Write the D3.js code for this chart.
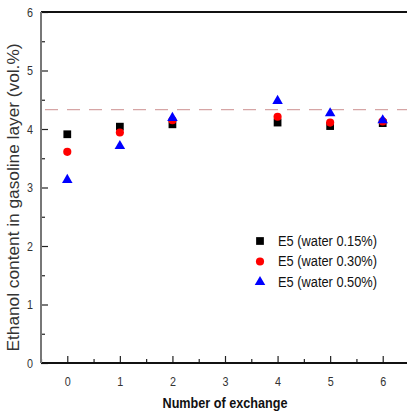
<!DOCTYPE html>
<html>
<head>
<meta charset="utf-8">
<script src="https://cdn.jsdelivr.net/npm/d3@7"></script>
<style>
  body { margin: 0; background: #fff; }
  text { font-family: "Liberation Sans Narrow", "Liberation Sans", Arial, sans-serif; }
</style>
</head>
<body>
<div id="chart"></div>
<script>
var svgWidth = 407;
var svgHeight = 414;

var margin = { top: 12, right: -2, bottom: 51, left: 41 };
var width = svgWidth - margin.left - margin.right;
var height = svgHeight - margin.top - margin.bottom;

// data
var exchanges = [0, 1, 2, 4, 5, 6];
var water015 = [3.91, 4.04, 4.08, 4.11, 4.05, 4.10];
var water030 = [3.61, 3.94, 4.15, 4.21, 4.11, 4.13];
var water050 = [3.13, 3.71, 4.19, 4.48, 4.27, 4.15];
var seriesNames = ["E5 (water 0.15%)", "E5 (water 0.30%)", "E5 (water 0.50%)"];
var refLevel = 4.33;
var xTicks = [0, 1, 2, 3, 4, 5, 6];
var yTicks = [0, 1, 2, 3, 4, 5, 6];

var svg = d3.select("#chart")
  .append("svg")
  .attr("width", svgWidth)
  .attr("height", svgHeight);

var chartGroup = svg.append("g")
  .attr("transform", `translate(${margin.left}, ${margin.top})`);

var x = d3.scaleLinear().domain([-0.5, 6.5]).range([0, width]);
var y = d3.scaleLinear().domain([0, 6]).range([height, 0]);

// minor ticks
var xMinor = d3.range(-0.5, 6.6, 0.5).filter(d => d % 1 !== 0);
var yMinor = d3.range(0.5, 6, 1);

var bottomAxis = d3.axisBottom(x).tickValues(xTicks).tickSize(-7).tickPadding(14)
  .tickFormat(d3.format("d"));
var leftAxis = d3.axisLeft(y).tickValues(yTicks).tickSize(-7).tickPadding(14)
  .tickFormat(d3.format("d"));

var xg = chartGroup.append("g")
  .attr("transform", `translate(0, ${height})`)
  .call(bottomAxis);
xg.select(".domain").remove();
xg.selectAll("text").attr("font-size", 13).attr("fill", "#333")
  .attr("textLength", 6).attr("lengthAdjust", "spacingAndGlyphs");

chartGroup.append("g")
  .attr("transform", `translate(0, ${height})`)
  .call(d3.axisBottom(x).tickValues(xMinor).tickSize(-4).tickFormat(""))
  .select(".domain").remove();

var yg = chartGroup.append("g").call(leftAxis);
yg.select(".domain").remove();
yg.selectAll("text").attr("font-size", 13).attr("fill", "#333").attr("dx", 6)
  .attr("textLength", 6).attr("lengthAdjust", "spacingAndGlyphs");

chartGroup.append("g")
  .call(d3.axisLeft(y).tickValues(yMinor).tickSize(-4).tickFormat(""))
  .select(".domain").remove();

chartGroup.selectAll(".tick line").attr("stroke", "#222").attr("stroke-width", 1.2);

// frame lines
chartGroup.append("line")
  .attr("x1", 0).attr("x2", width).attr("y1", height).attr("y2", height)
  .attr("stroke", "#111").attr("stroke-width", 2);
chartGroup.append("line")
  .attr("x1", 0).attr("x2", width).attr("y1", 0).attr("y2", 0)
  .attr("stroke", "#111").attr("stroke-width", 2);
chartGroup.append("line")
  .attr("x1", 0).attr("x2", 0).attr("y1", 0).attr("y2", height)
  .attr("stroke", "#777").attr("stroke-width", 2);

// dashed reference line
chartGroup.append("line")
  .attr("x1", 4).attr("x2", width).attr("y1", y(refLevel)).attr("y2", y(refLevel))
  .attr("stroke", "#a44").attr("stroke-width", 0.6)
  .attr("stroke-dasharray", "13,9");

var series = [
  { name: seriesNames[0], values: water015, color: "#000", shape: d3.symbolSquare, size: 60 },
  { name: seriesNames[1], values: water030, color: "#f00", shape: d3.symbolCircle, size: 52 },
  { name: seriesNames[2], values: water050, color: "#00f", shape: d3.symbolTriangle, size: 48 }
];

series.forEach(function(s) {
  chartGroup.selectAll(null)
    .data(exchanges)
    .enter()
    .append("path")
    .attr("d", d3.symbol().type(s.shape).size(s.size))
    .attr("transform", (d, i) => `translate(${x(d)}, ${y(s.values[i])})`)
    .attr("fill", s.color);
});

// legend
var legend = chartGroup.append("g")
  .attr("transform", `translate(${260 - margin.left}, ${241 - margin.top})`);
series.forEach(function(s, i) {
  legend.append("path")
    .attr("d", d3.symbol().type(s.shape).size(s.size))
    .attr("transform", `translate(0, ${i * 20.5})`)
    .attr("fill", s.color);
  legend.append("text")
    .attr("x", 18)
    .attr("y", i * 20.5)
    .attr("dy", "0.35em")
    .attr("font-size", 14)
    .attr("fill", "#111")
    .attr("textLength", 99)
    .attr("lengthAdjust", "spacingAndGlyphs")
    .text(s.name);
});

// axis titles
svg.append("text")
  .attr("transform", `translate(13, ${margin.top + height / 2 + 10}) rotate(-90)`)
  .attr("text-anchor", "middle")
  .attr("dy", "0.35em")
  .attr("font-size", 16)
  .attr("fill", "#333")
  .attr("textLength", 308)
  .attr("lengthAdjust", "spacingAndGlyphs")
  .text("Ethanol content in gasoline layer (vol.%)");

svg.append("text")
  .attr("x", 225)
  .attr("y", 408)
  .attr("text-anchor", "middle")
  .attr("font-size", 14)
  .attr("font-weight", "bold")
  .attr("fill", "#111")
  .attr("textLength", 125)
  .attr("lengthAdjust", "spacingAndGlyphs")
  .text("Number of exchange");
</script>
</body>
</html>
